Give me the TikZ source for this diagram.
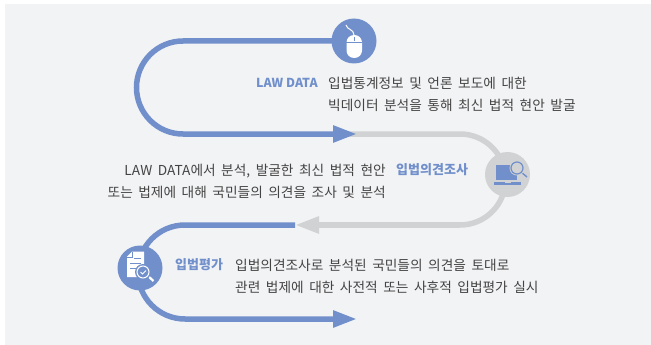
\documentclass[tikz,border=0pt]{standalone}
\usepackage{fontspec}
\setmainfont[WordSpace=1.8]{Noto Sans CJK KR}
\newfontfamily\headfont{Noto Sans CJK KR}
\usetikzlibrary{arrows.meta}
\definecolor{panelbg}{HTML}{F2F3F5}
\definecolor{lawblue}{HTML}{7190CB}
\definecolor{lawgray}{HTML}{D0D2D4}
\definecolor{bodytext}{HTML}{444444}
\tikzset{
  blueline/.style={draw=lawblue,line width=5.5pt},
  grayline/.style={draw=lawgray,line width=5.5pt},
  bluetip/.style={-{Triangle[length=24pt,width=16pt]}},
  stepdot/.style={circle,inner sep=0pt,minimum size=45pt},
  bodylabel/.style={text=bodytext,font=\fontsize{13.7}{21.5}\selectfont,inner sep=0pt},
  headlabel/.style={text=lawblue,font=\headfont\fontsize{13}{14}\selectfont\bfseries,inner sep=0pt}
}
\begin{document}
\begin{tikzpicture}[x=1pt,y=-1pt]
        \useasboundingbox (0,0) rectangle (651,345);
        \fill[panelbg] (5,4) rectangle (651,345);
        % step circles
        \node[stepdot] (mouse) at (354,41) {};
        \node[stepdot] (survey) at (507.5,174.5) {};
        \node[stepdot] (review) at (140,268) {};
        \coordinate (A) at (183,41);
        \coordinate (C) at (333,134);
        \coordinate (D) at (357,134);
        \coordinate (E) at (460,134);
        \coordinate (F) at (460,225);
        \coordinate (G) at (295,225);
        \coordinate (H) at (185,225);
        \coordinate (J) at (357,319);
        % paths
        \draw[grayline] (C)--(E) arc[start angle=90,end angle=-90,radius=45.5pt];
        \draw[blueline,bluetip] (mouse.center)--(A) arc[start angle=90,end angle=270,radius=46.5pt]--(D);
        \draw[blueline,bluetip] (G)--(H) arc[start angle=90,end angle=270,radius=47pt]--(J);
        \draw[grayline,bluetip] (F)--(G);
        \foreach \n/\c in {mouse/lawblue,survey/lawgray,review/lawblue}
            \fill[\c] (\n) circle (22.5pt);
        % mouse icon
        \fill[white,rounded corners=7.5pt] (346.5,35) rectangle (362,58);
        \draw[lawblue,line width=1pt] (346,42.5)--(362,42.5);
        \draw[lawblue,line width=1pt] (354,37)--(354,41);
        \draw[white,line width=1pt] (354,35) .. controls (354,29) and (347,30) .. (346,25);
        % laptop icon
        \fill[lawblue] (496,165) rectangle (517,180);
        \fill[lawblue] (494,182) rectangle (521,185);
        \fill[lawgray] (505,182) rectangle (511,183);
        \draw[lawblue,line width=1.4pt] (521,172)--(527,177);
        \fill[lawgray] (517,168) circle (7.5pt);
        \draw[lawblue,line width=1.2pt] (517,168) circle (6pt);
        % document icon
        \fill[white] (132,251.5)--(144,251.5)--(144,277)--(127,277)--(127,256.5)--cycle;
        \draw[lawblue,line width=0.8pt] (127,257)--(132,257)--(132,252);
        \draw[lawblue,line width=0.8pt] (134,258)--(141,258);
        \draw[lawblue,line width=0.8pt] (130,263)--(141,263);
        \draw[lawblue,line width=0.8pt] (130,268)--(137,268);
        \draw[white,line width=2.2pt] (148,276)--(153.5,281);
        \fill[lawblue] (143,272) circle (8pt);
        \draw[white,line width=1pt] (143,272) circle (6pt);
        \draw[white,line width=1pt] (140.5,272)--(142.5,274)--(146,270.5);
        % labels
        \node[headlabel,anchor=west,font=\headfont\fontsize{12.4}{14}\selectfont\bfseries] (lawdata) at (256,83) {LAW DATA};
        \node[bodylabel,anchor=north west,align=left] (lawtext) at (328,77) {입법통계정보 및 언론 보도에 대한\\빅데이터 분석을 통해 최신 법적 현안 발굴};
        \node[headlabel,anchor=west] (surveyhead) at (396,170) {입법의견조사};
        \node[bodylabel,anchor=north east,align=right] (surveytext) at (386,164) {LAW DATA에서 분석, 발굴한 최신 법적 현안\\또는 법제에 대해 국민들의 의견을 조사 및 분석};
        \node[headlabel,anchor=west] (reviewhead) at (175,265) {입법평가};
        \node[bodylabel,anchor=north west,align=left] (reviewtext) at (235,259) {입법의견조사로 분석된 국민들의 의견을 토대로\\관련 법제에 대한 사전적 또는 사후적 입법평가 실시};
    \end{tikzpicture}
\end{document}
